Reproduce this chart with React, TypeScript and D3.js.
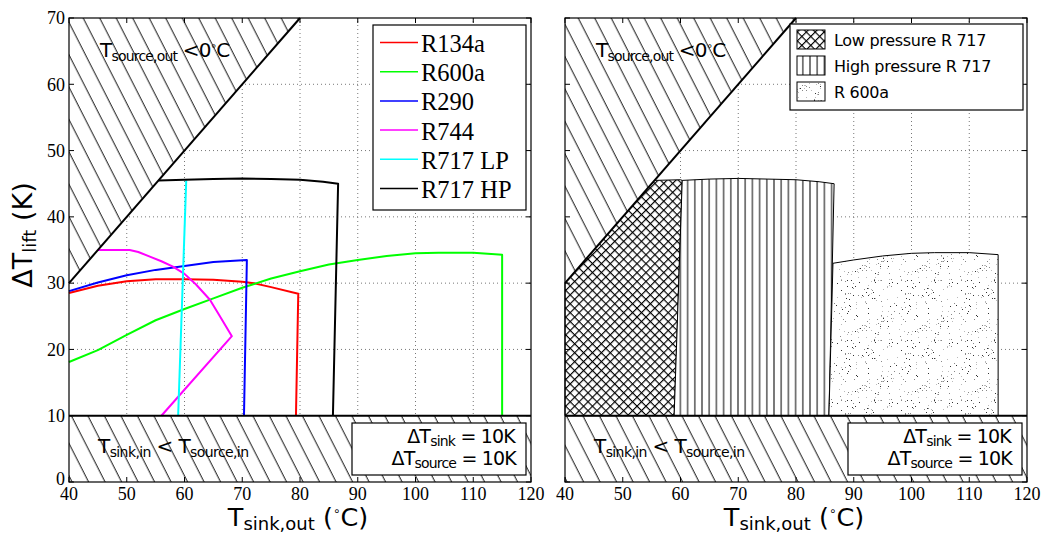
import * as d3 from 'd3'

// ---- data ----
const X_TICKS = [40, 50, 60, 70, 80, 90, 100, 110, 120]
const Y_TICKS = [0, 10, 20, 30, 40, 50, 60, 70]
const GRID_X = [50, 60, 70, 80, 90, 100, 110]
const GRID_Y = [20, 30, 40, 50, 60]

// T_source,out = 0 °C limit and the ΔT_sink/ΔT_source floor
const sourceLimit: [number, number][] = [[40, 30], [80, 70]]
const liftFloor = 10

const r134a: [number, number][] = [
  [40, 28.5], [45, 29.6], [50, 30.3], [55, 30.6], [60, 30.6], [65, 30.5],
  [70, 30.2], [72, 30.0], [75, 29.4], [79.7, 28.4], [79.3, 10],
]
const r600a: [number, number][] = [
  [40, 18.1], [45, 19.9], [50, 22.2], [55, 24.4], [60, 26.1],
  [65, 27.7], [70, 29.3], [75, 30.7], [80, 31.8], [85, 32.8], [90, 33.5],
  [95, 34.1], [100, 34.5], [104, 34.6], [110, 34.6], [115, 34.3], [115, 10],
]
const r290: [number, number][] = [
  [40, 28.8], [45, 30.1], [50, 31.2], [55, 32.0], [60, 32.6], [65, 33.2],
  [70.8, 33.5], [70.3, 10],
]
const r744: [number, number][] = [
  [45, 35], [50.5, 35], [52, 34.7], [54, 34.0], [56, 33.3], [58, 32.5],
  [60, 31.4], [62, 29.8], [64.4, 27.5], [66, 25.2], [68.2, 22], [56, 10],
]
const r717lp: [number, number][] = [[60.3, 45.5], [58.9, 10]]
const r717hp: [number, number][] = [
  [55.5, 45.5], [60, 45.6], [65, 45.7], [70, 45.8], [75, 45.7], [80, 45.6],
  [84, 45.3], [86.6, 45.0], [85.7, 10],
]

const SERIES = [
  { name: 'R134a', color: '#ff0000', data: r134a },
  { name: 'R600a', color: '#00ff00', data: r600a },
  { name: 'R290', color: '#0000ff', data: r290 },
  { name: 'R744', color: '#ff00ff', data: r744 },
  { name: 'R717 LP', color: '#00ffff', data: r717lp },
  { name: 'R717 HP', color: '#000000', data: r717hp },
]

const REGION_LEGEND = [
  { name: 'Low pressure R 717', fill: 'url(#cross)' },
  { name: 'High pressure R 717', fill: 'url(#vert)' },
  { name: 'R 600a', fill: 'url(#stipple)' },
]

// ---- layout ----
const W = 1049
const H = 534
const PW = 462
const TOP = 18
const BOTTOM = 482
const SANS = 'DejaVu Sans, sans-serif'
const SERIF = 'Liberation Serif, Times New Roman, serif'

// deterministic stipple texture (styling only)
const STIPPLE_DOTS: { x: number; y: number; c: string }[] = (() => {
  let s = 12345
  const rnd = () => ((s = (s * 1103515245 + 12345) % 2147483648) / 2147483648)
  const out: { x: number; y: number; c: string }[] = []
  for (let i = 0; i < 150; i++) {
    const v = rnd()
    out.push({ x: Math.floor(rnd() * 60), y: Math.floor(rnd() * 60), c: v < 0.3 ? '#333' : v < 0.65 ? '#888' : '#bbb' })
  }
  return out
})()

function Defs() {
  return (
    <defs>
      <pattern id="diag" patternUnits="userSpaceOnUse" width={16.5} height={40} patternTransform="skewX(27)">
        <line x1={8} y1={-1} x2={8} y2={41} stroke="#000" strokeWidth={1} />
      </pattern>
      <pattern id="cross" patternUnits="userSpaceOnUse" width={6.3} height={6.3} patternTransform="rotate(45)">
        <rect width={6.3} height={6.3} fill="#fff" />
        <line x1={0} y1={0.5} x2={6.3} y2={0.5} stroke="#000" strokeWidth={1.3} />
        <line x1={0.5} y1={0} x2={0.5} y2={6.3} stroke="#000" strokeWidth={1.3} />
      </pattern>
      <pattern id="vert" patternUnits="userSpaceOnUse" width={7.2} height={10}>
        <rect width={7.2} height={10} fill="#fff" />
        <line x1={3.6} y1={0} x2={3.6} y2={10} stroke="#000" strokeWidth={1} />
      </pattern>
      <pattern id="stipple" patternUnits="userSpaceOnUse" width={60} height={60}>
        <rect width={60} height={60} fill="#fff" />
        {STIPPLE_DOTS.map((d, i) => (
          <rect key={i} x={d.x} y={d.y} width={1} height={1} fill={d.c} />
        ))}
      </pattern>
    </defs>
  )
}

function Panel({ x0, showLines }: { x0: number; showLines: boolean }) {
  const x = d3.scaleLinear().domain([40, 120]).range([x0, x0 + PW])
  const y = d3.scaleLinear().domain([0, 70]).range([BOTTOM, TOP])
  const line = d3.line<[number, number]>().x(d => x(d[0])).y(d => y(d[1]))
  const poly = (pts: [number, number][]) => line(pts) + 'Z'

  const topTri: [number, number][] = [sourceLimit[0], sourceLimit[1], [40, 70]]
  const bottomBand: [number, number][] = [[40, 0], [120, 0], [120, liftFloor], [40, liftFloor]]

  // regions for the right panel, built from the series
  const hpTop = r717hp.slice(0, -1)
  const hpBottom = r717hp[r717hp.length - 1]
  const lpTop = r717lp[0]
  const lpBottom = r717lp[1]
  const lpRegion: [number, number][] = [
    [40, liftFloor], sourceLimit[0], hpTop[0],
    ...hpTop.filter(p => p[0] > hpTop[0][0] && p[0] < lpTop[0]),
    lpTop, lpBottom,
  ]
  const hpRegion: [number, number][] = [
    lpBottom, lpTop, ...hpTop.filter(p => p[0] > lpTop[0]), hpBottom,
  ]
  const greenTop = r600a.slice(0, -1)
  const greenAt = d3.scaleLinear().domain(greenTop.map(d => d[0])).range(greenTop.map(d => d[1]))
  const hpEdge = hpTop[hpTop.length - 1]
  const startX = hpEdge[0] - 0.2
  const r600Region: [number, number][] = [
    hpBottom, [startX, greenAt(startX)],
    ...r600a.filter(p => p[0] > startX),
  ]

  const tick = 5
  return (
    <g>
      <rect x={x(40)} y={y(70)} width={PW} height={BOTTOM - TOP} fill="#fff" />
      {GRID_X.map(v => (
        <line key={'gx' + v} x1={x(v)} x2={x(v)} y1={y(0)} y2={y(70)} stroke="#777" strokeWidth={1} strokeDasharray="1,3" />
      ))}
      {GRID_Y.map(v => (
        <line key={'gy' + v} x1={x(40)} x2={x(120)} y1={y(v)} y2={y(v)} stroke="#777" strokeWidth={1} strokeDasharray="1,3" />
      ))}

      {/* infeasible hatched regions */}
      {[topTri, bottomBand].map((p, i) => (
        <g key={'h' + i}>
          <path d={poly(p)} fill="#fff" />
          <path d={poly(p)} fill="url(#diag)" />
        </g>
      ))}

      {showLines && SERIES.map(s => (
        <path key={s.name} d={line(s.data) ?? ''} fill="none" stroke={s.color} strokeWidth={2} strokeLinejoin="round" />
      ))}

      {!showLines && (
        <g stroke="#000" strokeWidth={1}>
          <path d={poly(lpRegion)} fill="url(#cross)" />
          <path d={poly(hpRegion)} fill="url(#vert)" />
          <path d={poly(r600Region)} fill="url(#stipple)" />
        </g>
      )}

      {/* boundary lines */}
      <path d={line(sourceLimit) ?? ''} stroke="#000" strokeWidth={2} fill="none" />
      <line x1={x(40)} x2={x(120)} y1={y(liftFloor)} y2={y(liftFloor)} stroke="#000" strokeWidth={2} />

      {/* frame and ticks */}
      <rect x={x(40)} y={y(70)} width={PW} height={BOTTOM - TOP} fill="none" stroke="#000" strokeWidth={1.2} />
      {X_TICKS.map(v => (
        <g key={'tx' + v} stroke="#000" strokeWidth={1}>
          <line x1={x(v)} x2={x(v)} y1={y(0)} y2={y(0) - tick} />
          <line x1={x(v)} x2={x(v)} y1={y(70)} y2={y(70) + tick} />
        </g>
      ))}
      {Y_TICKS.map(v => (
        <g key={'ty' + v} stroke="#000" strokeWidth={1}>
          <line x1={x(40)} x2={x(40) + tick} y1={y(v)} y2={y(v)} />
          <line x1={x(120)} x2={x(120) - tick} y1={y(v)} y2={y(v)} />
        </g>
      ))}

      {X_TICKS.map(v => (
        <text key={'lx' + v} x={x(v)} y={500} textAnchor="middle" fontFamily={SERIF} fontSize={18}>{v}</text>
      ))}
      {showLines && Y_TICKS.map(v => (
        <text key={'ly' + v} x={x(40) - 4} y={y(v) - (v === 0 ? 3 : 0)} dy="0.35em" textAnchor="end" fontFamily={SERIF} fontSize={18}>{v}</text>
      ))}

      {/* annotations */}
      <text x={x0 + 31} y={57} fontFamily={SANS} fontSize={20} letterSpacing={-0.8}>
        T<tspan fontSize={14} dy={4}>source,out</tspan>
        <tspan dy={-4}> &lt;0</tspan><tspan fontSize={10} dy={-8}>∘</tspan><tspan dy={8}>C</tspan>
      </text>
      <text x={x0 + 29} y={453} fontFamily={SANS} fontSize={20} letterSpacing={-0.6}>
        T<tspan fontSize={14} dy={4}>sink,in</tspan>
        <tspan dy={-4}> &lt; T</tspan><tspan fontSize={14} dy={4}>source,in</tspan>
      </text>
      <rect x={x0 + 283} y={423} width={174} height={52} fill="#fff" stroke="#000" strokeWidth={1.2} />
      <text x={x0 + 446} y={443} textAnchor="end" fontFamily={SANS} fontSize={19} letterSpacing={-0.8}>
        ΔT<tspan fontSize={14} dy={3}>sink</tspan><tspan dy={-3}> = 10K</tspan>
      </text>
      <text x={x0 + 447} y={465} textAnchor="end" fontFamily={SANS} fontSize={19} letterSpacing={-0.8}>
        ΔT<tspan fontSize={14} dy={3}>source</tspan><tspan dy={-3}> = 10K</tspan>
      </text>

      {/* x axis label */}
      <text x={x0 + 229} y={526} textAnchor="middle" fontFamily={SANS} fontSize={25.5}>
        T<tspan fontSize={18} dy={4}>sink,out</tspan><tspan dy={-4}>  (</tspan>
        <tspan fontSize={12} dy={-11}>∘</tspan><tspan dy={11}>C)</tspan>
      </text>

      {/* legends */}
      {showLines ? (
        <g>
          <rect x={373} y={25} width={153} height={185} fill="#fff" stroke="#000" strokeWidth={1.2} />
          {SERIES.map((s, i) => (
            <g key={s.name}>
              <line x1={380} x2={418} y1={42.5 + i * 29.2} y2={42.5 + i * 29.2} stroke={s.color} strokeWidth={1.5} />
              <text x={421} y={52 + i * 29.2} fontFamily={SERIF} fontSize={24.5}>{s.name}</text>
            </g>
          ))}
        </g>
      ) : (
        <g>
          <rect x={790} y={24} width={233} height={86} fill="#fff" stroke="#000" strokeWidth={1.2} />
          {REGION_LEGEND.map((r, i) => (
            <g key={r.name}>
              <rect x={797} y={30 + i * 26} width={28} height={19} fill={r.fill} stroke="#000" strokeWidth={1} />
              <text x={834} y={46 + i * 26} fontFamily={SANS} fontSize={16} letterSpacing={-0.3}>{r.name}</text>
            </g>
          ))}
        </g>
      )}
    </g>
  )
}

export default function App() {
  return (
    <svg width={W} height={H} style={{ position: 'absolute', left: 0, top: 0, background: '#fff' }}>
      <Defs />
      <rect width={W} height={H} fill="#fff" />
      <Panel x0={69} showLines={true} />
      <Panel x0={565} showLines={false} />
      <text transform="translate(32,235) rotate(-90)" textAnchor="middle" fontFamily={SANS} fontSize={27}>
        ΔT<tspan fontSize={18} dy={4}>lift</tspan><tspan dy={-4}> (K)</tspan>
      </text>
    </svg>
  )
}
